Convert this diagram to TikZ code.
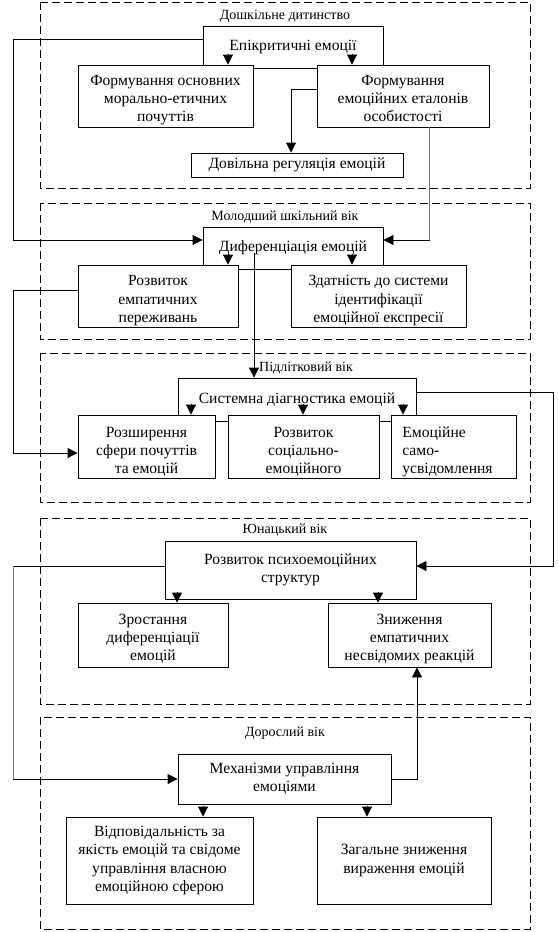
\documentclass[tikz,border=0pt]{standalone}
\usepackage{fontspec}
\setmainfont{Liberation Serif}
\usetikzlibrary{arrows.meta}
\newcommand{\txtdown}[2]{\raisebox{-#1}[\height][\depth]{\begin{tabular}{@{}c@{}}#2\end{tabular}}}
\newcommand{\txtdownl}[2]{\hspace*{-12pt}\raisebox{-#1}[\height][\depth]{\begin{tabular}{@{}l@{}}#2\end{tabular}}}
\begin{document}
\begin{tikzpicture}[x=1pt,y=-1pt,
  dashbox/.style={draw, dash pattern=on 8pt off 4pt, line width=0.9pt},
  pbox/.style={draw, fill=white, line width=0.9pt, inner sep=0pt, font=\fontsize{15.6}{18.3}\selectfont},
  box/.style={pbox, align=center},
  ttl/.style={font=\fontsize{14}{18}\selectfont, inner sep=0pt},
  conn/.style={line width=0.9pt},
  gconn/.style={line width=0.9pt, draw=black!55},
  arr/.style={conn, -{Triangle[length=10pt,width=10pt]}}
]
\useasboundingbox (0,0) rectangle (558,932);
\fill[white] (0,0) rectangle (558,932);

% dashed age sections
\draw[dashbox] (40,2) rectangle (530,188);
\draw[dashbox] (40,203) rectangle (530,339);
\draw[dashbox] (40,353) rectangle (530,502);
\draw[dashbox] (40,518) rectangle (530,704);
\draw[dashbox] (40,717) rectangle (530,929);

% titles
\node[ttl] (t1) at (285,16) {Дошкільне дитинство};
\node[ttl] (t2) at (285,217) {Молодший шкільний вік};
\node[ttl, anchor=west] (t3) at (259,368) {Підлітковий вік};
\node[ttl] (t4) at (285,530) {Юнацький вік};
\node[ttl] (t5) at (285,733) {Дорослий вік};

% section 1
\node[box, minimum width=180pt, minimum height=42pt] (epi) at (293,47) {Епікритичні емоції};
\node[pbox, minimum width=175pt, minimum height=62pt] (f1) at (165.5,96) {\txtdown{4pt}{Формування основних\\морально-етичних\\почуттів}};
\node[pbox, minimum width=172pt, minimum height=62pt] (f2) at (403,96) {\txtdown{4pt}{Формування\\емоційних еталонів\\особистості}};
\node[box, minimum width=212pt, minimum height=24pt] (dov) at (297,165) {Довільна регуляція емоцій};

% section 2
\node[box, minimum width=180pt, minimum height=42pt] (dif) at (293,248) {Диференціація емоцій};
\node[pbox, minimum width=160pt, minimum height=62pt] (r1) at (158,296) {\txtdown{4.5pt}{Розвиток\\емпатичних\\переживань}};
\node[pbox, minimum width=175pt, minimum height=62pt] (zd) at (378.5,296) {\txtdown{4.5pt}{Здатність до системи\\ідентифікації\\емоційної експресії}};

% section 3
\node[box, minimum width=238pt, minimum height=43pt] (sys) at (297,399.5) {Системна діагностика емоцій};
\node[pbox, minimum width=137pt, minimum height=63pt] (rs) at (146.5,446.5) {\txtdown{5.5pt}{Розширення\\сфери почуттів\\та емоцій}};
\node[pbox, minimum width=151pt, minimum height=63pt] (sc) at (303.5,446.5) {\txtdown{5.5pt}{Розвиток\\соціально-\\емоційного}};
\node[pbox, minimum width=125pt, minimum height=63pt] (em) at (453.5,446.5) {\txtdownl{5.5pt}{Емоційне\\само-\\усвідомлення}};

% section 4
\node[box, minimum width=251pt, minimum height=58pt] (psy) at (290.5,570) {Розвиток психоемоційних\\структур};
\node[pbox, minimum width=150pt, minimum height=64pt] (zr) at (153,635) {\txtdown{4pt}{Зростання\\диференціації\\емоцій}};
\node[pbox, minimum width=163pt, minimum height=64pt] (zn) at (409.5,635) {\txtdown{4pt}{Зниження\\емпатичних\\несвідомих реакцій}};

% section 5
\node[box, minimum width=213pt, minimum height=50pt] (mech) at (284.5,779) {Механізми управління\\емоціями};
\node[box, minimum width=187pt, minimum height=87pt] (vid) at (159.5,860.5) {Відповідальність за\\якість емоцій та свідоме\\управління власною\\емоційною сферою};
\node[box, minimum width=174pt, minimum height=87pt] (zag) at (404,860.5) {Загальне зниження\\вираження емоцій};

% parent-to-child arrowheads
\draw[arr] ([shift={(62.5,-11)}]f1.north) -- ([xshift=62.5pt]f1.north);
\draw[arr] ([shift={(-51,-11)}]f2.north) -- ([xshift=-51pt]f2.north);
\draw[arr] ([shift={(70,-11)}]r1.north) -- ([xshift=70pt]r1.north);
\draw[arr] ([shift={(-26.5,-11)}]zd.north) -- ([xshift=-26.5pt]zd.north);
\draw[arr] ([shift={(44.5,-11)}]rs.north) -- ([xshift=44.5pt]rs.north);
\draw[arr] ([shift={(-0.5,-11)}]sc.north) -- ([xshift=-0.5pt]sc.north);
\draw[arr] ([shift={(-50.5,-11)}]em.north) -- ([xshift=-50.5pt]em.north);
\draw[arr] ([shift={(24,-11)}]zr.north) -- ([xshift=24pt]zr.north);
\draw[arr] ([shift={(-31.5,-11)}]zn.north) -- ([xshift=-31.5pt]zn.north);
\draw[arr] ([shift={(43.5,-11)}]vid.north) -- ([xshift=43.5pt]vid.north);
\draw[arr] ([shift={(-37,-11)}]zag.north) -- ([xshift=-37pt]zag.north);

% long connectors
\draw[arr] ([yshift=8pt]epi.west) -- ++(-189,0) |- ([yshift=8pt]dif.west);
\draw[arr] ([yshift=7pt]f2.west) -| ([xshift=-6pt]dov.north);
\draw[arr] ([xshift=26pt]f2.south) coordinate (c3a) |- node[coordinate, pos=0.5] (c3b) {} ([yshift=8pt]dif.east);
\draw[gconn] (c3a) -- (c3b);
\draw[arr] ([shift={(-39,5)}]dif.center) -- ([xshift=-43pt]sys.north);
\draw[arr] ([yshift=6pt]r1.west) -- ++(-64,0) |- ([yshift=-6.5pt]rs.west);
\draw[arr] ([yshift=7.5pt]sys.east) -- ++(137,0) |- ([yshift=4pt]psy.east);
\draw[arr] ([yshift=4pt]psy.west) -- ++(-151,0) coordinate (c11a) |- node[coordinate, pos=0.5] (c11b) {} (mech.west);
\draw[gconn] (c11a) -- (c11b);
\draw[arr] (mech.east) -| ([xshift=7.5pt]zn.south);
\end{tikzpicture}
\end{document}
